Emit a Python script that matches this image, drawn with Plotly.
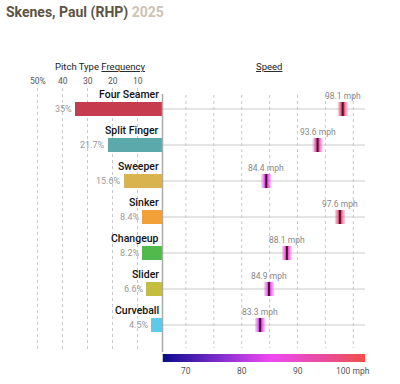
import plotly.graph_objects as go
from plotly.colors import sample_colorscale
import numpy as np

# ---------------- data ----------------
pitches = ["Four Seamer", "Split Finger", "Sweeper", "Sinker", "Changeup", "Slider", "Curveball"]
freq = [35.0, 21.7, 15.6, 8.4, 8.2, 6.6, 4.5]
speed = [98.1, 93.6, 84.4, 97.6, 88.1, 84.9, 83.3]
bar_colors = ["#c63b4e", "#5ba9aa", "#d8b34e", "#f2a03a", "#52b94c", "#c4be40", "#5ccbe8"]
freq_ticks = [50, 40, 30, 20, 10]
freq_tick_text = ["50%", "40", "30", "20", "10"]
speed_ticks = [70, 80, 90, 100]
speed_tick_text = ["70", "80", "90", "100 mph"]
speed_grid = [70, 75, 80, 85, 90, 95, 100]
freq_grid = [10, 20, 30, 40, 50]
title_main = "Skenes, Paul (RHP)"
title_year = "2025"

# ---------------- layout helpers ----------------
W, H = 400, 384
ROW0, ROWSTEP = 109.0, 36.0
SPLIT = 162.5
RIGHT = 365.0
SPD_MIN, SPD_MAX = 65.8, 102.1
PX_PER_MPH = (RIGHT - SPLIT) / (SPD_MAX - SPD_MIN)

def row(py):
    return (py - ROW0) / ROWSTEP

def px(x):
    return x / W

def py(y):
    return 1 - y / H

cscale = [[0.0, "#0b0b8c"], [0.3, "#8a30d2"], [0.53, "#f048f0"],
          [0.76, "#e84ca6"], [1.0, "#f05048"]]

def spd_color(v):
    t = (v - SPD_MIN) / (SPD_MAX - SPD_MIN)
    return sample_colorscale(cscale, [min(max(t, 0), 1)])[0]

font_n = "Roboto, sans-serif"

fig = go.Figure()

# frequency bars
idx = list(range(len(pitches)))
fig.add_trace(go.Bar(
    x=freq, y=idx, orientation="h", xaxis="x", yaxis="y",
    marker=dict(color=bar_colors, line=dict(width=0)),
    width=14 / ROWSTEP, hoverinfo="skip", showlegend=False))

# colorbar strip as heatmap
cb_x = np.linspace(SPD_MIN, SPD_MAX, 200)
fig.add_trace(go.Heatmap(
    x=cb_x, y=[row(354), row(362)], z=[cb_x[:-1]],
    colorscale=cscale, zmin=SPD_MIN, zmax=SPD_MAX, showscale=False,
    xaxis="x2", yaxis="y", hoverinfo="skip"))

shapes = []
# left dotted grid
for g in freq_grid:
    shapes.append(dict(type="line", xref="x", yref="y", x0=g, x1=g,
                       y0=row(88), y1=row(352),
                       line=dict(color="#c8c8c8", width=1, dash="dot"), layer="below"))
# right dotted grid
for g in speed_grid:
    shapes.append(dict(type="line", xref="x2", yref="y", x0=g, x1=g,
                       y0=row(95), y1=row(348),
                       line=dict(color="#c8c8c8", width=1, dash="dot"), layer="below"))
# row lines right
for i in idx:
    shapes.append(dict(type="line", xref="paper", yref="y", x0=px(SPLIT), x1=px(RIGHT),
                       y0=i, y1=i, line=dict(color="#dddddd", width=1.5), layer="below"))
# vertical axis line
shapes.append(dict(type="line", xref="paper", yref="y", x0=px(SPLIT), x1=px(SPLIT),
                   y0=row(94), y1=row(352), line=dict(color="#aaaaaa", width=1.5)))

# speed markers
for i, v in enumerate(speed):
    c = spd_color(v)
    for half_w, op in [(5.0, 0.3), (3.6, 0.45), (2.3, 0.8)]:
        dw = half_w / PX_PER_MPH
        shapes.append(dict(type="rect", xref="x2", yref="y", x0=v - dw, x1=v + dw,
                           y0=i - 7 / ROWSTEP, y1=i + 7 / ROWSTEP,
                           fillcolor=c, opacity=op, line=dict(width=0)))
    shapes.append(dict(type="line", xref="x2", yref="y", x0=v, x1=v,
                       y0=i - 7 / ROWSTEP, y1=i + 7 / ROWSTEP,
                       line=dict(color="#4a1030", width=2)))

ann = []
# title
ann.append(dict(text=f"<b>{title_main}</b> <b><span style='color:#cbc3b3'>{title_year}</span></b>",
                xref="paper", yref="paper", x=px(4), y=py(13), xanchor="left", yanchor="middle",
                showarrow=False, font=dict(family="Roboto, sans-serif", size=14, color="#5b5343")))
# panel titles
ann.append(dict(text="Pitch Type <u>Frequency</u>", xref="paper", yref="paper",
                x=px(100), y=py(67), xanchor="center", yanchor="middle", showarrow=False,
                font=dict(family=font_n, size=9.5, color="#222222")))
ann.append(dict(text="<u>Speed</u>", xref="paper", yref="paper",
                x=px(269), y=py(66), xanchor="center", yanchor="middle", showarrow=False,
                font=dict(family=font_n, size=9.5, color="#222222")))
# left ticks
for t, tt in zip(freq_ticks, freq_tick_text):
    ann.append(dict(text=tt, xref="x", yref="paper", x=t, y=py(81), xanchor="center",
                    yanchor="middle", showarrow=False,
                    font=dict(family=font_n, size=8.5, color="#555555")))
# right ticks
for t, tt in zip(speed_ticks, speed_tick_text):
    ann.append(dict(text=tt, xref="x2", yref="paper", x=t, y=py(371), xanchor="center",
                    yanchor="middle", showarrow=False,
                    font=dict(family=font_n, size=8.5, color="#555555")))
# pitch labels, pct labels, speed labels
for i in idx:
    ann.append(dict(text=pitches[i], xref="x", yref="y", x=0, y=i - 15 / ROWSTEP,
                    xanchor="right", yanchor="middle", xshift=-2, showarrow=False,
                    font=dict(family=font_n, size=10.5, color="#111111", weight=500)))
    pct = f"{freq[i]:g}%"
    ann.append(dict(text=pct, xref="x", yref="y", x=freq[i], y=i, xanchor="right",
                    yanchor="middle", xshift=-1, showarrow=False,
                    font=dict(family=font_n, size=9, color="#999999")))
    ann.append(dict(text=f"{speed[i]} mph", xref="x2", yref="y", x=speed[i],
                    y=i - 13 / ROWSTEP, xanchor="center", yanchor="middle", showarrow=False,
                    font=dict(family=font_n, size=8.5, color="#888888")))

fig.update_layout(
    width=W, height=H, margin=dict(l=0, r=0, t=0, b=0),
    paper_bgcolor="white", plot_bgcolor="rgba(0,0,0,0)",
    xaxis=dict(domain=[0, px(SPLIT)], range=[SPLIT / 2.5, 0], visible=False, fixedrange=True),
    xaxis2=dict(domain=[px(SPLIT), px(RIGHT)], range=[SPD_MIN, SPD_MAX], visible=False,
                anchor="y", fixedrange=True),
    yaxis=dict(domain=[0, 1], range=[row(H), row(0)], visible=False, fixedrange=True),
    shapes=shapes, annotations=ann, showlegend=False, bargap=0,
)

fig.write_html("out.html", config={"displayModeBar": False},
               post_script="document.body.style.margin='0';")
